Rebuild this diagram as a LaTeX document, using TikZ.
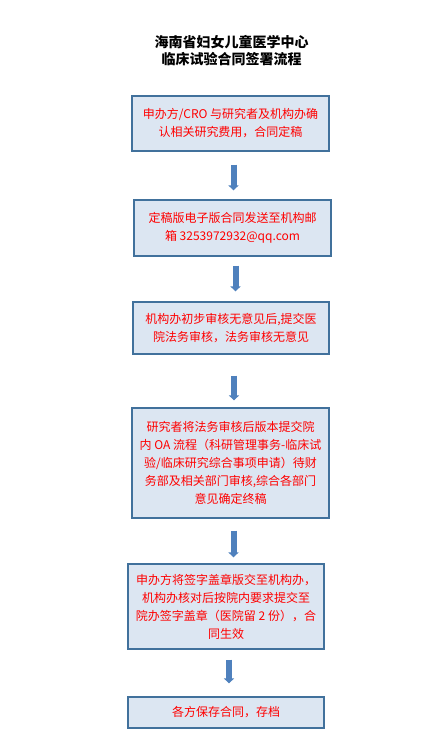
\documentclass[tikz,border=0pt]{standalone}
\usepackage{fontspec}
\setmainfont{Noto Sans CJK SC}
\usetikzlibrary{arrows.meta}

\definecolor{boxfill}{RGB}{220,230,242}
\definecolor{boxline}{RGB}{65,113,156}
\definecolor{arrowblue}{RGB}{79,129,189}

\tikzset{
  stepbox/.style={draw=boxline, line width=1.2pt, fill=boxfill, align=center,
    text=red, font=\fontsize{12}{18}\selectfont, inner sep=0pt},
  flow/.style={arrowblue, line width=6pt,
    -{Triangle[width=10pt,length=5pt]}}
}

\begin{document}
\begin{tikzpicture}[x=1pt,y=-1pt]
      \useasboundingbox (0,0) rectangle (435,748);

      \node[align=center, font=\fontsize{14}{17}\selectfont\bfseries] (title) at (231.5,51)
        {海南省妇女儿童医学中心\\临床试验合同签署流程};

      \node[stepbox, minimum width=197pt, minimum height=55pt] (b1) at (230.5,123.5)
        {申办方/CRO 与研究者及机构办确\\认相关研究费用，合同定稿};
      \node[stepbox, minimum width=197pt, minimum height=56pt] (b2) at (232.5,228)
        {定稿版电子版合同发送至机构邮\\箱 3253972932@qq.com};
      \node[stepbox, minimum width=196pt, minimum height=52pt] (b3) at (231,328)
        {机构办初步审核无意见后,提交医\\院法务审核，法务审核无意见};
      \node[stepbox, minimum width=197pt, minimum height=110pt] (b4) at (230.5,463)
        {研究者将法务审核后版本提交院\\内 OA 流程（科研管理事务-临床试\\验/临床研究综合事项申请）待财\\务部及相关部门审核,综合各部门\\意见确定终稿};
      \node[stepbox, minimum width=196pt, minimum height=85pt] (b5) at (226,606.5)
        {申办方将签字盖章版交至机构办，\\机构办核对后按院内要求提交至\\院办签字盖章（医院留 2 份），合\\同生效};
      \node[stepbox, minimum width=196pt, minimum height=31pt] (b6) at (226,712.5)
        {各方保存合同，存档};

      \foreach \a/\b/\s/\e in {b1/b2/13/9, b2/b3/9/10, b3/b4/21/7, b4/b5/12/6, b5/b6/10/13} {
          \draw[flow, shorten <=\s pt, shorten >=\e pt]
            ([xshift=3pt]\a.south) -- ([xshift=3pt]\a.south |- \b.north);
        }
    \end{tikzpicture}
\end{document}
